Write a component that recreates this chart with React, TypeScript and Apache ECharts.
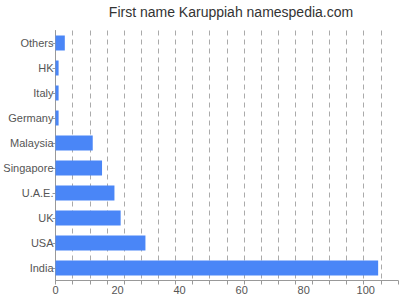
import React, { useEffect, useRef } from "react";
import * as echarts from "echarts";

const categories = ["India", "USA", "UK", "U.A.E.", "Singapore", "Malaysia", "Germany", "Italy", "HK", "Others"];
const values = [104, 29, 21, 19, 15, 12, 1, 1, 1, 3];
const axisMax = 110.4;
const gridStep = 5.52;
const labelStep = 20;

export default function App() {
  const ref = useRef<HTMLDivElement>(null);
  useEffect(() => {
    const chart = echarts.init(ref.current!, null, { renderer: "svg" });
    const font = "Liberation Sans, Arial, sans-serif";
    chart.setOption({
      animation: false,
      title: {
        text: "First name Karuppiah namespedia.com",
        left: 226,
        textAlign: "center",
        top: 0,
        textStyle: { fontFamily: font, fontSize: 14, fontWeight: "normal", color: "#333" },
      },
      grid: { left: 55.5, right: 2, top: 30.5, bottom: 19.5, containLabel: false },
      xAxis: [
        {
          type: "value",
          min: 0,
          max: axisMax,
          interval: labelStep,
          axisLine: { show: true, lineStyle: { color: "#999" } },
          axisTick: { show: false },
          splitLine: { show: false },
          axisLabel: { color: "#555", fontFamily: font, fontSize: 11, margin: 4, showMaxLabel: false },
        },
        {
          type: "value",
          position: "bottom",
          min: 0,
          max: axisMax,
          interval: gridStep,
          axisLine: { show: false },
          axisTick: { show: true, length: 4, inside: false, lineStyle: { color: "#999" } },
          axisLabel: { show: false },
          splitLine: {
            show: true,
            showMinLine: false,
            showMaxLine: false,
            lineStyle: { color: "#aaa", type: [5, 4] },
          },
        },
      ],
      yAxis: {
        type: "category",
        data: categories,
        axisLine: { show: true, lineStyle: { color: "#999" } },
        axisTick: { show: true, alignWithLabel: true, length: 3, lineStyle: { color: "#999" } },
        axisLabel: { color: "#555", fontFamily: font, fontSize: 11, margin: 2 },
        splitLine: { show: false },
      },
      series: [
        {
          type: "bar",
          data: values,
          xAxisIndex: 0,
          barWidth: 15,
          itemStyle: { color: "#4a86f7" },
        },
      ],
    });
    return () => chart.dispose();
  }, []);
  return <div ref={ref} style={{ width: 400, height: 300, position: "absolute", left: 0, top: 0 }} />;
}
